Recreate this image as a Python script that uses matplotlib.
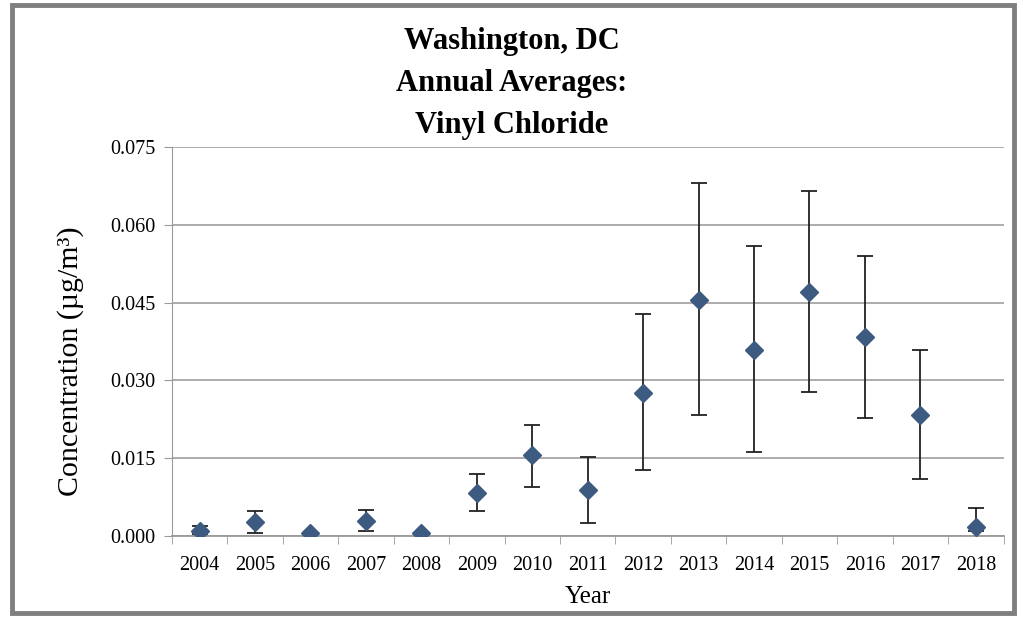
import matplotlib
matplotlib.use("Agg")
import matplotlib.pyplot as plt
from matplotlib.patches import Rectangle

# annual averages and error bar limits (ug/m3)
years = ["2004", "2005", "2006", "2007", "2008", "2009", "2010", "2011",
         "2012", "2013", "2014", "2015", "2016", "2017", "2018"]
avg = [0.0010, 0.0027, 0.0006, 0.0030, 0.0006, 0.0083, 0.0156, 0.0089,
       0.0276, 0.0455, 0.0359, 0.0470, 0.0384, 0.0233, 0.0018]
upper = [0.0020, 0.0048, 0.0006, 0.0050, 0.0006, 0.0120, 0.0214, 0.0152,
         0.0428, 0.0680, 0.0559, 0.0665, 0.0540, 0.0359, 0.0054]
lower = [0.0004, 0.0006, 0.0006, 0.0010, 0.0006, 0.0048, 0.0094, 0.0025,
         0.0127, 0.0233, 0.0162, 0.0278, 0.0228, 0.0110, 0.0010]
yticks = [0.000, 0.015, 0.030, 0.045, 0.060, 0.075]

plt.rcParams['font.family'] = ['Liberation Serif', 'DejaVu Serif']

fig = plt.figure(figsize=(10.23, 6.17), dpi=100)
ax = fig.add_axes([0.168, 0.131, 0.813, 0.631])

x = list(range(len(years)))
err = [[a - l for a, l in zip(avg, lower)], [u - a for a, u in zip(avg, upper)]]
ax.errorbar(x, avg, yerr=err, fmt='D', color='#3d5a80', markersize=9,
            ecolor='#222222', elinewidth=1.3, capsize=6, capthick=1.3, zorder=3)

ax.set_xlim(-0.5, len(years) - 0.5)
ax.set_ylim(0, 0.075)
ax.set_yticks(yticks)
ax.set_yticklabels([f"{v:.3f}" for v in yticks], fontsize=14.5)
ax.set_xticks(x)
ax.set_xticklabels(years, fontsize=14.5)
ax.tick_params(axis='x', length=0, pad=14)
ax.set_xticks([i - 0.5 for i in range(len(years) + 1)], minor=True)
ax.tick_params(axis='x', which='minor', length=6, color='#999999', direction='out')
ax.tick_params(axis='y', length=6, color='#999999', pad=6)

ax.grid(axis='y', color='#a6a6a6', linewidth=1.3)
ax.set_axisbelow(True)
for side in ['top', 'right']:
    ax.spines[side].set_visible(False)
ax.spines['left'].set_color('#999999')
ax.spines['bottom'].set_color('#999999')
ax.spines['bottom'].set_linewidth(1.3)

ax.set_ylabel("Concentration (µg/m³)", fontsize=21.5)
ax.yaxis.set_label_coords(-0.106, 0.45)
ax.set_xlabel("Year", fontsize=18, labelpad=8)

fig.text(0.5, 0.957, "Washington, DC\nAnnual Averages:\nVinyl Chloride",
         ha='center', va='top', fontsize=22, fontweight='bold', linespacing=1.6)

# grey frame around the whole chart
fig.patches.append(Rectangle((0.012, 0.006), 0.979, 0.986, transform=fig.transFigure,
                             fill=False, edgecolor='#7f7f7f', linewidth=3.5))

fig.savefig("out.png", dpi=100)
